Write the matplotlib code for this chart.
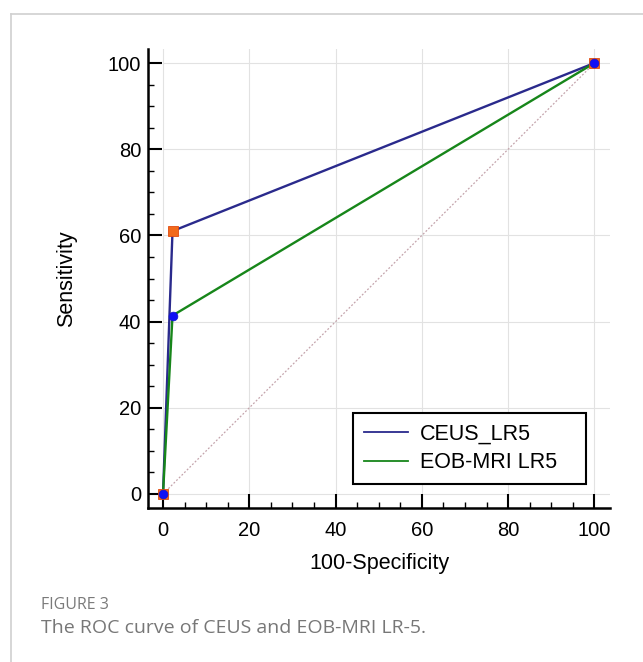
import matplotlib
matplotlib.use("Agg")
import matplotlib.pyplot as plt
from matplotlib.ticker import MultipleLocator
from matplotlib.lines import Line2D

# Data
ceus_x = [0, 2.2, 100]
ceus_y = [0, 61.0, 100]
eob_x = [0, 2.2, 100]
eob_y = [0, 41.4, 100]
diag_x = [0, 100]
diag_y = [0, 100]
ticks = [0, 20, 40, 60, 80, 100]
series_labels = ["CEUS_LR5", "EOB-MRI LR5"]
xlabel = "100-Specificity"
ylabel = "Sensitivity"
caption_head = "FIGURE 3"
caption_text = "The ROC curve of CEUS and EOB-MRI LR-5."

plt.rcParams['font.family'] = ['Liberation Sans', 'DejaVu Sans']

fig = plt.figure(figsize=(6.43, 6.62), dpi=100)
W, H = 643, 662

# Border of the figure panel
fig.add_artist(Line2D([11 / W, 11 / W], [0, 1 - 14 / H], color='#d0d0d0', lw=1.2, transform=fig.transFigure))
fig.add_artist(Line2D([11 / W, 1], [1 - 14 / H, 1 - 14 / H], color='#d0d0d0', lw=1.2, transform=fig.transFigure))

ax = fig.add_axes([148 / W, 1 - 508 / H, (610 - 148) / W, (508 - 49) / H])
ax.set_xlim(-3.48, 103.6)
ax.set_ylim(-3.25, 103.25)

# Grid
for t in ticks:
    ax.plot([0, 103.6], [t, t], color='#e2e2e2', lw=0.8, zorder=0.5)
    ax.plot([t, t], [-3.25, 103.25], color='#e2e2e2', lw=0.8, zorder=0.5)

ax.plot(diag_x, diag_y, color='#c4a4ac', lw=0.9, ls=(0, (1.5, 1.5)), zorder=1)

ax.plot(ceus_x, ceus_y, color='#2a2a8c', lw=1.7, label=series_labels[0], zorder=2)
ax.plot(eob_x, eob_y, color='#17861a', lw=1.7, label=series_labels[1], zorder=2)

ax.plot(ceus_x, ceus_y, ls='none', marker='s', markersize=7, markerfacecolor='#f26a1b',
        markeredgecolor='#e04a10', markeredgewidth=0.6, zorder=3)
ax.plot(eob_x, eob_y, ls='none', marker='o', markersize=6.3, markerfacecolor='#1010f5',
        markeredgecolor='#1010d0', markeredgewidth=0.5, zorder=4)

ax.set_xticks(ticks)
ax.set_yticks(ticks)
ax.xaxis.set_minor_locator(MultipleLocator(5))
ax.yaxis.set_minor_locator(MultipleLocator(5))
ax.tick_params(which='major', direction='in', length=10, width=1.5, labelsize=14.5, color='black')
ax.tick_params(which='minor', direction='in', length=4.5, width=1.0, color='black')
ax.tick_params(axis='x', which='major', pad=9)
ax.tick_params(axis='y', which='major', pad=5)

for s in ['top', 'right']:
    ax.spines[s].set_visible(False)
for s in ['left', 'bottom']:
    ax.spines[s].set_linewidth(1.8)
    ax.spines[s].set_color('black')

ax.set_xlabel(xlabel, fontsize=15.5, labelpad=10)
ax.set_ylabel(ylabel, fontsize=15.5, labelpad=22)

leg = ax.legend(loc='upper left', bbox_to_anchor=((353 - 148) / 462, (508 - 413) / 459, (586 - 353) / 462, 0.0),
                mode='expand', fontsize=15.5, frameon=True, fancybox=False, borderpad=0.5,
                labelspacing=0.35, handlelength=2.05, handletextpad=0.55, borderaxespad=0.0)
leg.get_frame().set_edgecolor('black')
leg.get_frame().set_linewidth(1.5)
leg.get_frame().set_alpha(1)
for line in leg.get_lines():
    line.set_linewidth(1.3)

fig.text(41 / W, 1 - 605 / H, caption_head, fontsize=11.5, color='#7a7a7a', family=['Open Sans', 'DejaVu Sans'],
         va='center', ha='left')
fig.text(41 / W, 1 - 628 / H, caption_text, fontsize=14, color='#777777', family=['Open Sans', 'DejaVu Sans'],
         va='center', ha='left')

fig.savefig('out.png', dpi=100)
